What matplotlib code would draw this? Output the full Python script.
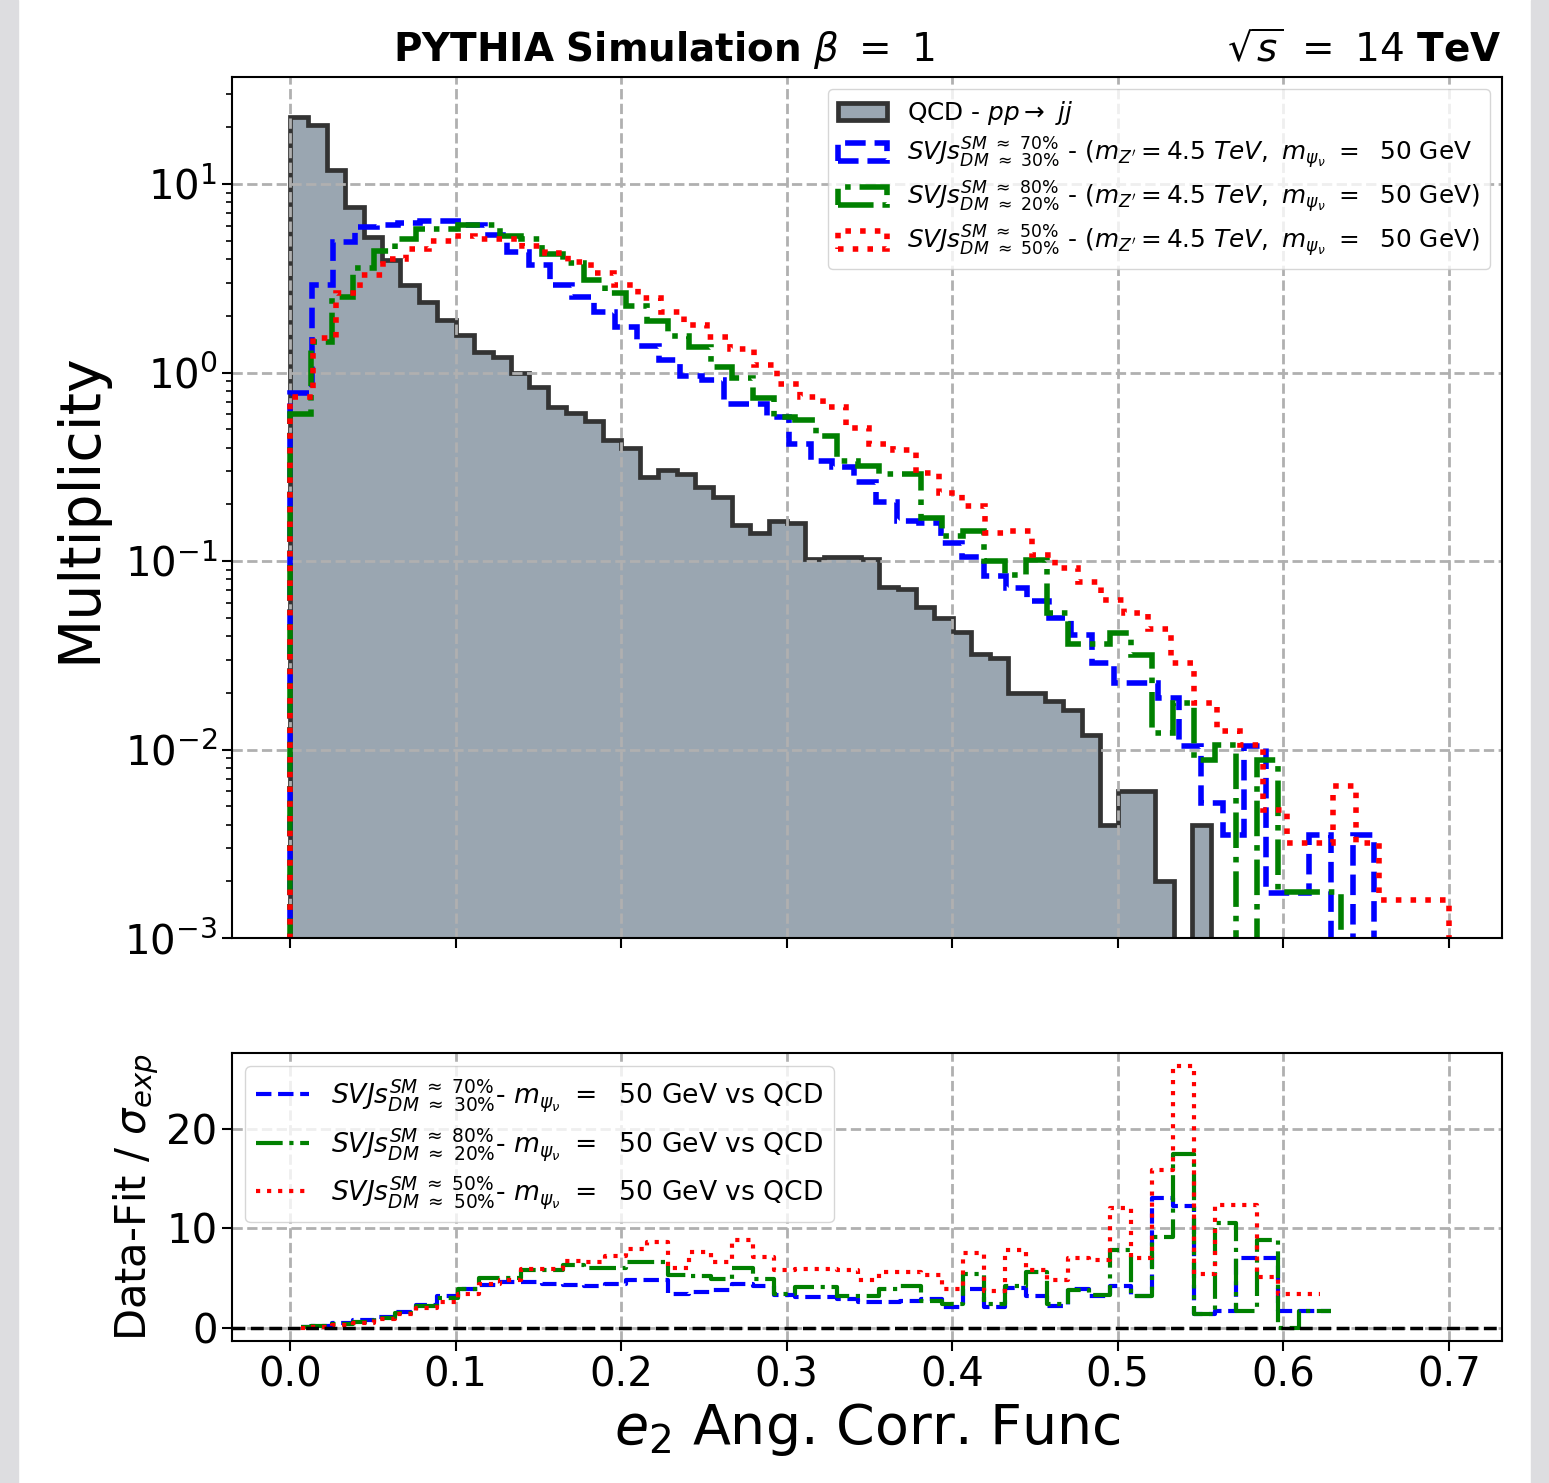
import numpy as np
import matplotlib.pyplot as plt
from matplotlib.patches import Rectangle

# Data: normalised histograms, 50 bins each from 0 to the sample maximum
qcd_max, blue_max, green_max, red_max = 0.556, 0.655, 0.635, 0.70

qcd_vals = [22.8, 20.5, 11.9, 7.6, 5.25, 3.95, 2.91, 2.37, 1.9, 1.58,
            1.29, 1.21, 0.99, 0.84, 0.66, 0.61, 0.55, 0.44, 0.396, 0.28,
            0.305, 0.29, 0.248, 0.219, 0.155, 0.14, 0.164, 0.16, 0.103, 0.105,
            0.105, 0.103, 0.073, 0.071, 0.057, 0.05, 0.042, 0.032, 0.0305, 0.02,
            0.02, 0.018, 0.0162, 0.0119, 0.004, 0.006, 0.006, 0.002, 0.0, 0.004]

blue_vals = [0.78, 2.9, 4.9, 5.9, 6.1, 6.2, 6.4, 6.4, 6.06, 5.4,
             4.37, 3.72, 2.9, 2.52, 2.10, 1.74, 1.39, 1.16, 0.96, 0.91,
             0.68, 0.68, 0.58, 0.42, 0.34, 0.316, 0.263, 0.205, 0.163, 0.16,
             0.124, 0.105, 0.083, 0.072, 0.061, 0.0496, 0.0403, 0.0288, 0.0224, 0.0224,
             0.0188, 0.0104, 0.0052, 0.0035, 0.0104, 0.00173, 0.00173, 0.0035, 0.0, 0.0035]

green_vals = [0.6, 1.46, 2.52, 3.6, 4.4, 5.1, 5.8, 5.8, 6.06, 6.06,
              5.3, 5.1, 4.26, 3.82, 3.1, 2.63, 2.25, 1.88, 1.56, 1.36,
              1.07, 0.93, 0.73, 0.58, 0.56, 0.46, 0.34, 0.32, 0.29, 0.29,
              0.17, 0.135, 0.145, 0.10, 0.084, 0.101, 0.053, 0.0363, 0.0363, 0.0414,
              0.0317, 0.0123, 0.0176, 0.0088, 0.0106, 0.0, 0.0088, 0.00176, 0.00176, 0.00176]

red_vals = [0.74, 1.52, 2.64, 3.29, 4.0, 4.52, 4.99, 5.3, 5.1, 5.1,
            4.7, 4.3, 3.88, 3.37, 2.91, 2.48, 2.09, 1.79, 1.54, 1.33,
            1.1, 0.87, 0.74, 0.66, 0.51, 0.42, 0.39, 0.293, 0.23, 0.196,
            0.141, 0.144, 0.108, 0.0918, 0.0774, 0.0621, 0.0527, 0.0434, 0.0286, 0.0177,
            0.0126, 0.0106, 0.0048, 0.0032, 0.0032, 0.0064, 0.0032, 0.0016, 0.0016, 0.0016]

# significance (Data-Fit / sigma_exp) per bin, common binning
ratio_max = 0.635
blue_sig = [0.05, 0.2, 0.45, 0.75, 1.1, 1.6, 2.3, 3.2, 3.9, 4.3,
            4.6, 4.6, 4.4, 4.3, 4.2, 4.4, 4.8, 4.8, 3.4, 3.6,
            3.8, 4.4, 4.2, 3.3, 3.1, 3.1, 2.9, 2.6, 2.6, 2.75,
            2.95, 2.1, 3.9, 2.1, 4.0, 3.25, 2.2, 3.9, 3.25, 4.25,
            3.25, 13.0, 12.25, 1.4, 1.74, 7.04, 7.04, 1.74, 1.74, 1.74]
green_sig = [0.05, 0.15, 0.35, 0.6, 1.0, 1.5, 2.2, 3.0, 3.9, 5.0,
             5.0, 5.8, 5.8, 6.3, 6.0, 6.0, 6.6, 6.6, 5.3, 5.2,
             4.9, 6.0, 4.9, 3.4, 4.1, 4.1, 3.25, 3.25, 3.9, 4.25,
             2.75, 2.4, 5.4, 2.4, 4.25, 5.6, 2.4, 3.8, 3.35, 7.8,
             3.25, 9.1, 17.5, 1.4, 10.5, 1.74, 8.8, 0.0, 1.74, 1.74]
red_sig = [0.0, 0.1, 0.3, 0.5, 0.9, 1.4, 2.0, 2.6, 3.4, 4.4,
           4.8, 5.9, 5.9, 6.7, 6.6, 7.2, 7.9, 8.6, 6.0, 7.6,
           6.6, 8.8, 7.1, 5.8, 5.9, 5.9, 5.8, 4.8, 5.6, 5.6,
           5.3, 3.9, 7.5, 3.76, 7.8, 5.8, 4.8, 7.0, 6.8, 12.0,
           7.0, 15.9, 26.3, 5.4, 12.3, 12.3, 5.1, 3.4, 3.4, np.nan]

lab_qcd = r'QCD - $pp \rightarrow\ jj$'
lab_blue = r'$SVJs^{SM\ \approx\ 70\%}_{DM\ \approx\ 30\%}$ - ($m_{Z^{\prime}} = 4.5\ TeV,\ m_{\psi_{\nu}}\ =\ $ 50 GeV'
lab_green = r'$SVJs^{SM\ \approx\ 80\%}_{DM\ \approx\ 20\%}$ - ($m_{Z^{\prime}} = 4.5\ TeV,\ m_{\psi_{\nu}}\ =\ $ 50 GeV)'
lab_red = r'$SVJs^{SM\ \approx\ 50\%}_{DM\ \approx\ 50\%}$ - ($m_{Z^{\prime}} = 4.5\ TeV,\ m_{\psi_{\nu}}\ =\ $ 50 GeV)'
rlab_blue = r'$SVJs^{SM\ \approx\ 70\%}_{DM\ \approx\ 30\%}$- $m_{\psi_{\nu}}\ =\ $ 50 GeV vs QCD'
rlab_green = r'$SVJs^{SM\ \approx\ 80\%}_{DM\ \approx\ 20\%}$- $m_{\psi_{\nu}}\ =\ $ 50 GeV vs QCD'
rlab_red = r'$SVJs^{SM\ \approx\ 50\%}_{DM\ \approx\ 50\%}$- $m_{\psi_{\nu}}\ =\ $ 50 GeV vs QCD'

fig = plt.figure(figsize=(15.49, 14.83), dpi=100)
# light grey side strips of the page
fig.add_artist(Rectangle((0, 0), 18 / 1549, 1, transform=fig.transFigure, color='#dddde0', zorder=0))
fig.add_artist(Rectangle((1 - 18 / 1549, 0), 18 / 1549, 1, transform=fig.transFigure, color='#dddde0', zorder=0))

ax1 = fig.add_axes([0.1498, 0.3675, 0.8198, 0.5806])
ax2 = fig.add_axes([0.1498, 0.0958, 0.8198, 0.1942], sharex=ax1)

# --- top panel
e = np.linspace(0, qcd_max, 51)
ax1.hist(e[:-1], bins=e, weights=qcd_vals, histtype='stepfilled', log=True,
         facecolor=(112 / 255, 128 / 255, 144 / 255, 0.7), edgecolor='#333333', lw=3.4, label=lab_qcd)
e = np.linspace(0, blue_max, 51)
ax1.hist(e[:-1], bins=e, weights=blue_vals, histtype='step', log=True,
         color='blue', ls='--', lw=4, label=lab_blue)
e = np.linspace(0, green_max, 51)
ax1.hist(e[:-1], bins=e, weights=green_vals, histtype='step', log=True,
         color='green', ls='-.', lw=4, label=lab_green)
e = np.linspace(0, red_max, 51)
ax1.hist(e[:-1], bins=e, weights=red_vals, histtype='step', log=True,
         color='red', ls=':', lw=4, label=lab_red)

ax1.set_ylim(1e-3, 37)
ax1.set_xlim(-0.035, 0.732)
ax1.set_ylabel('Multiplicity', fontsize=41, labelpad=12)
ax1.grid(True, ls='--', lw=2, color='#b0b0b0')
ax1.tick_params(labelbottom=False, labelsize=29, width=1.5, length=7)
ax1.tick_params(which='minor', width=1.2, length=4.5)
ax1.legend(loc='upper right', fontsize=17.8, labelspacing=0.33)
ax1.text(0.127, 1.018, r'$\bf{PYTHIA\ Simulation}$ $\beta\ =\ 1$', transform=ax1.transAxes,
         fontsize=28, ha='left', va='baseline')
ax1.text(1.0, 1.018, r'$\sqrt{s}\ =\ 14\ \bf{TeV}$', transform=ax1.transAxes,
         fontsize=28, ha='right', va='baseline')

# --- bottom panel
re = np.linspace(0, ratio_max, 51)
rc = 0.5 * (re[1:] + re[:-1])
ax2.step(rc, blue_sig, where='mid', color='blue', ls='--', lw=3, label=rlab_blue)
ax2.step(rc, green_sig, where='mid', color='green', ls='-.', lw=3, label=rlab_green)
ax2.step(rc, red_sig, where='mid', color='red', ls=':', lw=3, label=rlab_red)
ax2.axhline(0, color='k', ls='--', lw=2.5)
ax2.set_ylim(-1.3, 27.6)
ax2.set_yticks([0, 10, 20])
ax2.set_xticks(np.arange(0, 0.71, 0.1))
ax2.grid(True, ls='--', lw=2, color='#b0b0b0')
ax2.tick_params(labelsize=29, width=1.5, length=7)
ax2.set_ylabel(r'Data-Fit / $\sigma_{exp}$', fontsize=30)
ax2.set_xlabel(r'$e_2$ Ang. Corr. Func', fontsize=40)
ax2.legend(loc='upper left', fontsize=19.2, labelspacing=0.45)

for ax in (ax1, ax2):
    for s in ax.spines.values():
        s.set_linewidth(1.5)

fig.savefig('out.png', dpi=100)
